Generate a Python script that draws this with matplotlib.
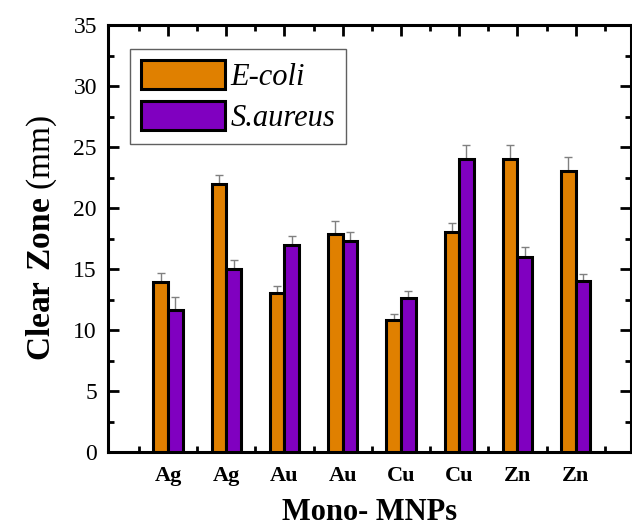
import numpy as np
import matplotlib.pyplot as plt
from matplotlib.ticker import MultipleLocator, FixedLocator

plt.rcParams['font.family'] = ['Liberation Serif', 'DejaVu Serif']
plt.rcParams['mathtext.fontset'] = 'custom'
plt.rcParams['mathtext.rm'] = 'Liberation Serif'
plt.rcParams['mathtext.bf'] = 'Liberation Serif:bold'

# values
metals = ['Ag', 'Ag', 'Au', 'Au', 'Cu', 'Cu', 'Zn', 'Zn']
ecoli = [13.9, 22.0, 13.0, 17.9, 10.8, 18.0, 24.0, 23.0]
ecoli_err = [0.8, 0.7, 0.6, 1.0, 0.5, 0.8, 1.2, 1.2]
saureus = [11.6, 15.0, 17.0, 17.3, 12.6, 24.0, 16.0, 14.0]
saureus_err = [1.1, 0.7, 0.7, 0.7, 0.6, 1.2, 0.8, 0.6]

orange = '#E08000'
purple = '#8000C0'

x = np.arange(1, len(metals) + 1)
w = 0.25

fig = plt.figure(figsize=(6.32, 5.28), dpi=100)
ax = fig.add_axes([108/632, 1 - 452/528, 523/632, 427/528])

ax.bar(x - w/2, ecoli, w, color=orange, edgecolor='black', linewidth=2.2,
       label='E-coli', zorder=3)
ax.bar(x + w/2, saureus, w, color=purple, edgecolor='black', linewidth=2.2,
       label='S.aureus', zorder=3)
ax.errorbar(x - w/2, ecoli, yerr=[np.zeros(len(x)), ecoli_err], fmt='none',
            ecolor='#808080', elinewidth=1, capsize=3, capthick=1, zorder=2)
ax.errorbar(x + w/2, saureus, yerr=[np.zeros(len(x)), saureus_err], fmt='none',
            ecolor='#808080', elinewidth=1, capsize=3, capthick=1, zorder=2)

ax.set_xlim(-0.03, 8.95)
ax.set_ylim(0, 35)
ax.xaxis.set_major_locator(FixedLocator(x))
ax.xaxis.set_minor_locator(FixedLocator(np.arange(0.5, 9, 1.0)))
ax.set_xticklabels(metals, fontsize=16, fontweight='bold')
ax.yaxis.set_major_locator(MultipleLocator(5))
ax.yaxis.set_minor_locator(MultipleLocator(2.5))
ax.tick_params(axis='both', which='both', direction='in', top=True, right=True,
               width=2)
ax.tick_params(axis='both', which='major', length=8)
ax.tick_params(axis='both', which='minor', length=4)
ax.tick_params(axis='y', labelsize=17, pad=8)
ax.tick_params(axis='x', which='major', pad=10)
for s in ax.spines.values():
    s.set_linewidth(2.2)

ax.set_xlabel('Mono- MNPs', fontsize=22, fontweight='bold', labelpad=9)
ax.set_ylabel(r'$\mathbf{Clear\ Zone}$ (mm)', fontsize=24, labelpad=10)

leg = ax.legend(loc='upper left', bbox_to_anchor=(0.042, 0.944),
                borderaxespad=0, prop={'style': 'italic', 'size': 22},
                handlelength=2.75, handleheight=1.1, handletextpad=0.2,
                labelspacing=0.3, borderpad=0.35, fancybox=False, framealpha=1)
leg.get_frame().set_edgecolor('#606060')
leg.get_frame().set_linewidth(1)
for h in leg.get_patches():
    h.set_linewidth(2.2)

fig.savefig('out.png', dpi=100)
